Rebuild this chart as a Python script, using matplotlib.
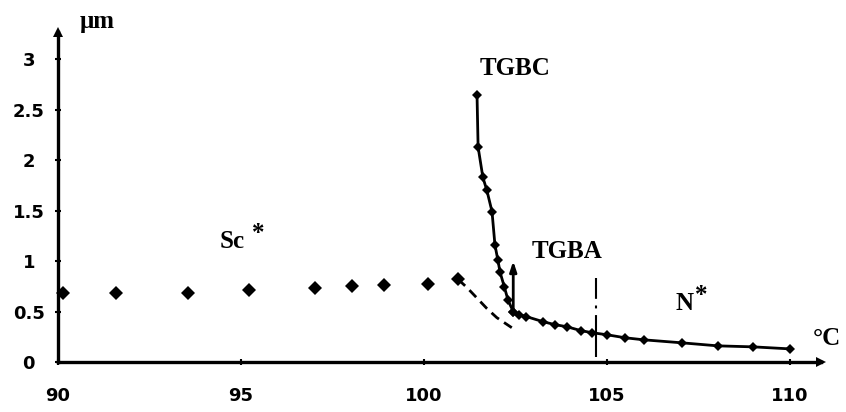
import matplotlib
matplotlib.use("Agg")
import matplotlib.pyplot as plt

# pitch vs temperature
# Sc* phase: isolated points
sc_T = [90.14, 91.58, 93.55, 95.22, 97.02, 98.03, 98.9, 100.1, 100.93]
sc_v = [0.68, 0.68, 0.68, 0.71, 0.73, 0.75, 0.76, 0.77, 0.82]

# extrapolated Sc* branch (dashed)
dash_T = [100.93, 101.17, 101.72, 101.99, 102.4]
dash_v = [0.82, 0.74, 0.53, 0.44, 0.34]

# TGBC branch
tgbc_T = [101.45, 101.48, 101.61, 101.72, 101.86, 101.94, 102.02, 102.08, 102.2, 102.3, 102.44]
tgbc_v = [2.65, 2.13, 1.83, 1.70, 1.49, 1.16, 1.01, 0.89, 0.74, 0.61, 0.50]

# TGBA / N* branch
nstar_T = [102.44, 102.6, 102.8, 103.25, 103.58, 103.9, 104.3, 104.6, 105.0,
           105.5, 106.0, 107.05, 108.03, 109.0, 110.0]
nstar_v = [0.50, 0.47, 0.45, 0.40, 0.37, 0.35, 0.31, 0.29, 0.27,
           0.24, 0.22, 0.19, 0.16, 0.15, 0.13]

xticks = [90, 95, 100, 105, 110]
yticks = [0, 0.5, 1, 1.5, 2, 2.5, 3]
ytick_labels = ["0", "0.5", "1", "1.5", "2", "2.5", "3"]

# transition markers
tgba_T = 102.44
tgba_arrow = (0.48, 1.0)
nstar_T_trans = 104.7
nstar_span = (0.83, 0.05)  # drawn top to bottom so the dash pattern starts at the top

serif = dict(family="Liberation Serif", weight="bold", fontsize=18)

fig = plt.figure(figsize=(8.46, 4.12), dpi=100)
ax = fig.add_axes([58 / 846, 50 / 412, (821 - 58) / 846, 330 / 412])

ax.plot(sc_T, sc_v, ls="none", marker="D", ms=7, mew=0, color="k", clip_on=False)
ax.plot(dash_T, dash_v, ls=(0, (3.5, 2.2)), lw=2, color="k")
ax.plot(tgbc_T, tgbc_v, "-", marker="D", ms=5.5, mew=0, lw=2, color="k")
ax.plot(nstar_T, nstar_v, "-", marker="D", ms=5.5, mew=0, lw=2, color="k")

ax.annotate("", xy=(tgba_T, tgba_arrow[1]), xytext=(tgba_T, tgba_arrow[0]),
            arrowprops=dict(arrowstyle="-|>,head_length=0.6,head_width=0.2",
                            lw=2, color="k", shrinkA=0, shrinkB=0))
ax.plot([nstar_T_trans, nstar_T_trans], nstar_span, color="k", lw=1.5,
        ls=(0, (10, 3.2, 1.4, 3.2, 30)))

ax.text(102.5, 2.91, "TGBC", ha="center", va="center", **serif)
ax.text(103.91, 1.09, "TGBA", ha="center", va="center", **serif)
ax.text(94.75, 1.19, "Sc", ha="center", va="center", **serif)
ax.text(95.46, 1.27, "*", ha="center", va="center", **serif)
ax.text(107.13, 0.58, "N", ha="center", va="center", **serif)
ax.text(107.58, 0.66, "*", ha="center", va="center", **serif)
ax.text(111.0, 0.23, "°C", ha="center", va="center", **serif)
ax.text(91.07, 3.37, "μm", ha="center", va="center", **serif)

ax.set_xlim(90, 110.85)
ax.set_ylim(0, 3.27)
for side in ("top", "right"):
    ax.spines[side].set_visible(False)
for side in ("left", "bottom"):
    ax.spines[side].set_linewidth(2.4)

ax.set_xticks(xticks)
ax.set_yticks(yticks)
ax.set_yticklabels(ytick_labels)
ax.tick_params(direction="inout", length=4, width=1.5)
ax.tick_params(axis="x", pad=16)
ax.tick_params(axis="y", pad=19)
for lab in ax.get_xticklabels() + ax.get_yticklabels():
    lab.set_fontfamily("DejaVu Sans")
    lab.set_fontweight("bold")
    lab.set_fontsize(13)
for lab in ax.get_yticklabels():
    lab.set_horizontalalignment("center")

# arrow tips on the axes
ax.plot([0], [1], marker="^", ms=7, mew=0, color="k",
        transform=ax.transAxes, clip_on=False)
ax.plot([1], [0], marker=">", ms=7, mew=0, color="k",
        transform=ax.transAxes, clip_on=False)

fig.savefig("out.png", dpi=100)
